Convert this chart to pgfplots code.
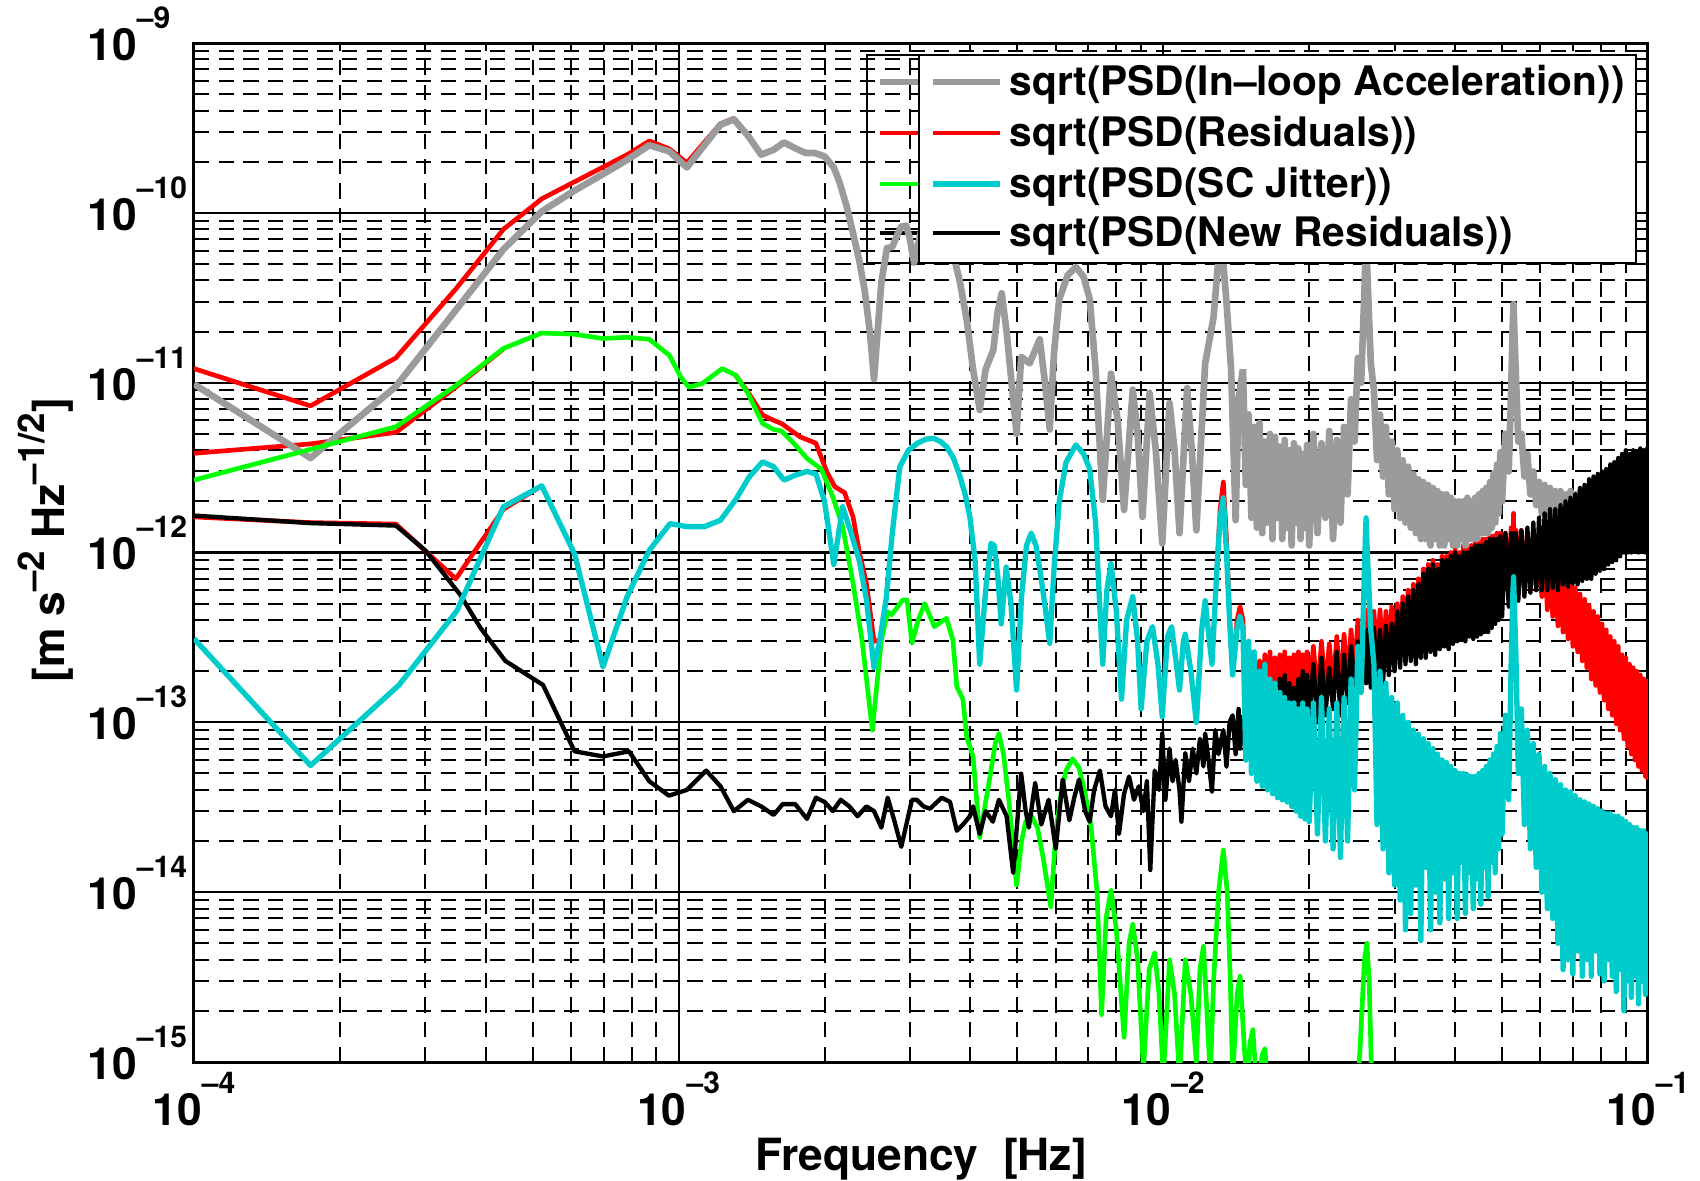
\documentclass[border=0pt]{standalone}
\usepackage{pgfplots}
\pgfplotsset{compat=1.18}
\usepackage{pgfplotstable}
\usepackage{fontspec}
\setmainfont{TeX Gyre Heros}
\definecolor{mgray}{RGB}{155,155,155}
\definecolor{mred}{RGB}{255,0,0}
\definecolor{mgreen}{RGB}{0,255,0}
\definecolor{mcyan}{RGB}{0,204,204}
\newcommand{\tl}[1]{\fontsize{13.3}{14}\selectfont\bfseries 10\raisebox{9.6pt}{\fontsize{9}{9}\selectfont\bfseries –#1}}
\newcommand{\sps}[1]{\raisebox{6pt}{\fontsize{11}{11}\selectfont\bfseries –#1}}
\newcommand{\legfont}{\fontsize{12.2}{14}\selectfont\bfseries}

\pgfplotstableread{
f g r c k
0.0146 1.2e-11 4.0e-13 3.5e-13 1.1e-13
0.0148 2.5e-12 1.2e-13 6.0e-14 6.0e-14
0.0150 6.5e-12 2.2e-13 3.0e-13 1.3e-13
0.0152 1.6e-12 1.0e-13 5.0e-14 6.5e-14
0.0154 5.5e-12 2.4e-13 2.6e-13 1.2e-13
0.0156 1.4e-12 1.1e-13 4.5e-14 7.0e-14
0.0158 5.8e-12 2.3e-13 2.0e-13 1.4e-13
0.0160 1.3e-12 1.2e-13 4.2e-14 7.5e-14
0.0162 4.5e-12 2.5e-13 2.2e-13 1.5e-13
0.0164 1.5e-12 1.1e-13 4.0e-14 8.0e-14
0.0166 5.0e-12 2.6e-13 1.8e-13 1.7e-13
0.0168 1.2e-12 1.2e-13 3.8e-14 7.0e-14
0.0170 4.8e-12 2.4e-13 1.7e-13 1.6e-13
0.0172 1.6e-12 1.3e-13 3.6e-14 8.5e-14
0.0174 4.2e-12 2.5e-13 1.5e-13 1.8e-13
0.0176 1.2e-12 1.2e-13 3.5e-14 7.5e-14
0.0178 4.6e-12 2.6e-13 1.4e-13 1.9e-13
0.0180 1.4e-12 1.3e-13 3.4e-14 9.0e-14
0.0182 4.0e-12 2.4e-13 1.3e-13 1.7e-13
0.0184 1.1e-12 1.2e-13 3.2e-14 8.0e-14
0.0186 4.4e-12 2.5e-13 1.3e-13 1.6e-13
0.0188 1.5e-12 1.3e-13 3.0e-14 8.5e-14
0.0190 4.1e-12 2.6e-13 1.2e-13 1.8e-13
0.0192 1.2e-12 1.2e-13 2.8e-14 9.0e-14
0.0194 3.8e-12 2.5e-13 1.3e-13 2.0e-13
0.0196 1.4e-12 1.4e-13 2.7e-14 9.5e-14
0.0198 4.3e-12 2.6e-13 1.2e-13 1.9e-13
0.0200 1.1e-12 1.3e-13 2.6e-14 1.0e-13
0.0204 5.0e-12 2.8e-13 1.3e-13 2.2e-13
0.0208 1.3e-12 1.4e-13 2.2e-14 1.0e-13
0.0212 4.4e-12 3.0e-13 1.4e-13 2.4e-13
0.0216 1.6e-12 1.5e-13 2.0e-14 1.1e-13
0.0220 5.2e-12 2.9e-13 1.2e-13 2.1e-13
0.0224 1.2e-12 1.6e-13 1.8e-14 1.2e-13
0.0228 4.6e-12 3.2e-13 1.3e-13 2.6e-13
0.0232 1.5e-12 1.5e-13 1.6e-14 1.1e-13
0.0236 5.5e-12 3.3e-13 1.4e-13 2.5e-13
0.0240 2.2e-12 1.7e-13 2.0e-14 1.3e-13
0.0244 8.0e-12 3.5e-13 1.8e-13 2.8e-13
0.0248 4.5e-12 1.8e-13 4.0e-14 1.4e-13
0.0252 1.4e-11 4.0e-13 2.8e-13 3.0e-13
0.0256 1.0e-11 2.0e-13 1.5e-13 1.6e-13
0.0260 3.5e-11 4.4e-13 8.0e-13 3.4e-13
0.0262 7.0e-11 2.2e-13 1.6e-12 1.7e-13
0.0264 4.0e-11 4.6e-13 9.0e-13 3.5e-13
0.0268 1.3e-11 2.1e-13 3.5e-13 1.6e-13
0.0272 9.0e-12 4.5e-13 2.2e-13 3.6e-13
0.0276 3.5e-12 2.2e-13 2.5e-14 1.8e-13
0.0280 6.5e-12 4.6e-13 2.0e-13 3.5e-13
0.0284 2.8e-12 2.1e-13 1.8e-14 1.7e-13
0.0288 5.5e-12 4.5e-13 1.7e-13 3.7e-13
0.0292 2.2e-12 2.3e-13 1.3e-14 1.9e-13
0.0296 4.5e-12 4.8e-13 1.4e-13 3.8e-13
0.0300 1.8e-12 2.4e-13 1.1e-14 2.0e-13
0.0304 4.0e-12 5.0e-13 1.3e-13 4.5e-13
0.0308 1.6e-12 2.5e-13 9.0e-15 2.1e-13
0.0312 3.5e-12 5.5e-13 1.1e-13 5.0e-13
0.0316 1.5e-12 2.6e-13 6.0e-15 2.2e-13
0.0320 3.2e-12 6.0e-13 1.0e-13 5.5e-13
0.0324 1.4e-12 2.8e-13 7.5e-15 2.3e-13
0.0328 2.9e-12 6.5e-13 9.0e-14 6.0e-13
0.0332 1.3e-12 2.7e-13 1.1e-14 2.2e-13
0.0336 2.7e-12 7.0e-13 8.5e-14 6.5e-13
0.0340 1.2e-12 2.9e-13 5.2e-15 2.4e-13
0.0344 2.6e-12 8.0e-13 8.0e-14 7.5e-13
0.0348 1.2e-12 3.0e-13 1.4e-14 2.4e-13
0.0352 2.5e-12 8.5e-13 7.5e-14 8.0e-13
0.0356 1.1e-12 3.1e-13 6.0e-15 2.6e-13
0.0360 2.4e-12 9.0e-13 7.0e-14 8.5e-13
0.0364 1.2e-12 3.0e-13 1.0e-14 2.5e-13
0.0368 2.3e-12 8.5e-13 6.5e-14 8.0e-13
0.0372 1.1e-12 3.2e-13 6.6e-15 2.7e-13
0.0376 2.2e-12 9.5e-13 6.0e-14 9.0e-13
0.0380 1.1e-12 3.3e-13 1.2e-14 2.8e-13
0.0384 2.2e-12 9.5e-13 5.8e-14 9.0e-13
0.0388 1.2e-12 3.2e-13 7.0e-15 2.7e-13
0.0392 2.1e-12 1.0e-12 5.5e-14 9.5e-13
0.0396 1.1e-12 3.4e-13 1.3e-14 2.9e-13
0.0400 2.0e-12 1.05e-12 5.2e-14 1.0e-12
0.0404 1.1e-12 3.5e-13 7.0e-15 3.0e-13
0.0408 2.0e-12 1.0e-12 5.0e-14 9.5e-13
0.0412 1.2e-12 3.6e-13 1.5e-14 3.1e-13
0.0416 2.0e-12 1.1e-12 5.0e-14 1.0e-12
0.0420 1.1e-12 3.5e-13 7.5e-15 3.0e-13
0.0424 2.1e-12 1.05e-12 4.9e-14 1.0e-12
0.0428 1.2e-12 3.7e-13 1.3e-14 3.2e-13
0.0432 2.0e-12 1.1e-12 4.8e-14 1.05e-12
0.0436 1.2e-12 3.6e-13 8.0e-15 3.1e-13
0.0440 2.1e-12 1.15e-12 4.8e-14 1.1e-12
0.0444 1.2e-12 3.8e-13 1.2e-14 3.2e-13
0.0448 2.2e-12 1.15e-12 5.0e-14 1.1e-12
0.0452 1.3e-12 3.9e-13 8.5e-15 3.3e-13
0.0456 2.3e-12 1.2e-12 5.2e-14 1.1e-12
0.0460 1.3e-12 4.0e-13 1.4e-14 3.4e-13
0.0464 2.4e-12 1.2e-12 5.5e-14 1.15e-12
0.0468 1.3e-12 4.1e-13 9.4e-15 3.4e-13
0.0472 2.6e-12 1.25e-12 6.0e-14 1.2e-12
0.0476 1.4e-12 4.3e-13 1.5e-14 3.6e-13
0.0480 2.9e-12 1.25e-12 6.5e-14 1.2e-12
0.0484 1.5e-12 4.5e-13 1.3e-14 3.8e-13
0.0488 3.3e-12 1.3e-12 7.2e-14 1.2e-12
0.0492 1.7e-12 4.7e-13 1.8e-14 4.0e-13
0.0496 3.9e-12 1.3e-12 8.6e-14 1.25e-12
0.0500 2.0e-12 5.0e-13 2.2e-14 4.2e-13
0.0508 5.0e-12 1.3e-12 1.1e-13 1.3e-12
0.0516 3.0e-12 5.5e-13 3.5e-14 4.8e-13
0.0522 9.0e-12 1.4e-12 2.2e-13 1.3e-12
0.0526 2.2e-11 6.0e-13 5.5e-13 5.0e-13
0.0528 2.9e-11 1.7e-12 7.2e-13 1.3e-12
0.0530 2.0e-11 5.5e-13 5.0e-13 5.0e-13
0.0534 1.1e-11 1.35e-12 2.5e-13 1.3e-12
0.0540 4.5e-12 5.6e-13 5.0e-14 5.2e-13
0.0548 5.0e-12 1.35e-12 1.2e-13 1.35e-12
0.0556 2.8e-12 5.8e-13 2.5e-14 5.5e-13
0.0564 3.8e-12 1.3e-12 9.0e-14 1.4e-12
0.0572 2.2e-12 6.0e-13 1.8e-14 5.8e-13
0.0580 3.0e-12 1.3e-12 7.5e-14 1.5e-12
0.0588 1.9e-12 6.2e-13 1.4e-14 6.0e-13
0.0596 2.6e-12 1.2e-12 6.5e-14 1.6e-12
0.0604 1.7e-12 5.5e-13 1.0e-14 6.0e-13
0.0612 2.5e-12 1.05e-12 5.5e-14 1.7e-12
0.0620 1.6e-12 4.6e-13 8.0e-15 6.0e-13
0.0628 2.4e-12 9.5e-13 5.0e-14 1.8e-12
0.0636 1.5e-12 4.2e-13 7.0e-15 6.2e-13
0.0644 2.3e-12 8.5e-13 4.6e-14 1.8e-12
0.0652 1.6e-12 3.7e-13 5.0e-15 6.0e-13
0.0660 2.3e-12 8.0e-13 4.3e-14 1.9e-12
0.0668 1.5e-12 3.4e-13 3.5e-15 6.5e-13
0.0676 2.2e-12 7.3e-13 4.0e-14 2.0e-12
0.0684 1.6e-12 3.1e-13 4.0e-15 6.3e-13
0.0692 2.3e-12 6.8e-13 3.9e-14 2.1e-12
0.0700 1.5e-12 2.8e-13 3.3e-15 6.6e-13
0.0708 2.2e-12 6.2e-13 3.7e-14 2.2e-12
0.0716 1.6e-12 2.6e-13 4.5e-15 6.5e-13
0.0724 2.3e-12 5.7e-13 3.5e-14 2.4e-12
0.0732 1.5e-12 2.3e-13 3.2e-15 6.8e-13
0.0740 2.2e-12 5.3e-13 3.4e-14 2.5e-12
0.0748 1.6e-12 2.1e-13 4.0e-15 7.0e-13
0.0756 2.3e-12 4.9e-13 3.3e-14 2.7e-12
0.0764 1.5e-12 1.8e-13 3.2e-15 7.0e-13
0.0772 2.2e-12 4.5e-13 3.2e-14 2.8e-12
0.0780 1.6e-12 1.65e-13 4.5e-15 7.5e-13
0.0788 2.3e-12 4.2e-13 3.1e-14 2.9e-12
0.0796 1.5e-12 1.5e-13 3.3e-15 7.8e-13
0.0804 2.2e-12 3.8e-13 3.0e-14 3.0e-12
0.0812 1.6e-12 1.35e-13 3.0e-15 8.0e-13
0.0820 2.3e-12 3.5e-13 2.9e-14 3.1e-12
0.0828 1.5e-12 1.2e-13 4.0e-15 8.5e-13
0.0836 2.2e-12 3.2e-13 2.9e-14 3.3e-12
0.0844 1.6e-12 1.1e-13 3.2e-15 8.8e-13
0.0852 2.3e-12 3.0e-13 2.8e-14 3.4e-12
0.0860 1.5e-12 9.8e-14 2.6e-15 9.0e-13
0.0868 2.2e-12 2.8e-13 2.8e-14 3.6e-12
0.0876 1.6e-12 9.0e-14 3.5e-15 9.5e-13
0.0884 2.3e-12 2.5e-13 2.7e-14 3.8e-12
0.0892 1.5e-12 8.0e-14 2.0e-15 1.0e-12
0.0900 2.2e-12 2.4e-13 2.6e-14 4.0e-12
0.0908 1.6e-12 7.2e-14 3.0e-15 1.0e-12
0.0916 2.3e-12 2.2e-13 2.5e-14 3.8e-12
0.0924 1.5e-12 6.5e-14 2.4e-15 1.0e-12
0.0932 2.2e-12 2.1e-13 2.4e-14 4.0e-12
0.0940 1.6e-12 6.0e-14 3.2e-15 1.05e-12
0.0948 2.3e-12 2.0e-13 2.4e-14 3.9e-12
0.0956 1.5e-12 5.5e-14 2.2e-15 1.0e-12
0.0964 2.2e-12 1.9e-13 2.3e-14 4.1e-12
0.0972 1.6e-12 5.2e-14 3.0e-15 1.05e-12
0.0980 2.3e-12 1.8e-13 2.3e-14 4.0e-12
0.0988 1.5e-12 4.8e-14 2.5e-15 1.0e-12
0.0996 2.2e-12 1.75e-13 2.2e-14 4.1e-12
0.1000 1.6e-12 4.6e-14 3.6e-15 1.0e-12
}\hf

\begin{document}
\begin{tikzpicture}
\begin{axis}[
  xmode=log, ymode=log,
  scale only axis, width=436.2pt, height=305.7pt,
  xmin=1e-4, xmax=1e-1, ymin=1e-15, ymax=1e-9,
  xtick={1e-4,1e-3,1e-2,1e-1},
  xticklabels={\tl{4},\tl{3},\tl{2},\tl{1}},
  ytick={1e-15,1e-14,1e-13,1e-12,1e-11,1e-10,1e-9},
  yticklabels={\tl{15},\tl{14},\tl{13},\tl{12},\tl{11},\tl{10},\tl{9}},
  minor xtick={2e-4,3e-4,4e-4,5e-4,6e-4,7e-4,8e-4,9e-4,2e-3,3e-3,4e-3,5e-3,6e-3,7e-3,8e-3,9e-3,2e-2,3e-2,4e-2,5e-2,6e-2,7e-2,8e-2,9e-2},
  minor ytick={2e-15,3e-15,4e-15,5e-15,6e-15,7e-15,8e-15,9e-15,2e-14,3e-14,4e-14,5e-14,6e-14,7e-14,8e-14,9e-14,2e-13,3e-13,4e-13,5e-13,6e-13,7e-13,8e-13,9e-13,2e-12,3e-12,4e-12,5e-12,6e-12,7e-12,8e-12,9e-12,2e-11,3e-11,4e-11,5e-11,6e-11,7e-11,8e-11,9e-11,2e-10,3e-10,4e-10,5e-10,6e-10,7e-10,8e-10,9e-10},
  grid=both,
  major grid style={black, line width=0.65pt},
  minor grid style={black, line width=0.6pt, dash pattern=on 4.6pt off 2.8pt},
  tick align=inside,
  major tick length=4pt, minor tick length=2.5pt,
  tick style={black, line width=0.6pt},
  axis line style={line width=0.9pt},
  xticklabel style={anchor=base, yshift=-18.9pt, inner sep=0pt},
  yticklabel style={anchor=base west, xshift=-32.1pt, yshift=-5.2pt, inner sep=0pt},
  xlabel={Frequency\ \ [Hz]},
  xlabel style={at={(rel axis cs:0.5,0)}, anchor=base, yshift=-32.4pt, inner sep=0pt, font=\fontsize{13.3}{14}\selectfont\bfseries},
  ylabel={[m s\sps{2} Hz\sps{1/2}]},
  ylabel style={at={(rel axis cs:-0.0825,0.512)}, anchor=south, inner sep=0pt, font=\fontsize{13.3}{14}\selectfont\bfseries},
  every axis plot/.append style={line join=round},
  no markers,
]
\coordinate (sw) at (rel axis cs:0,0);
\coordinate (ne) at (rel axis cs:1,1);
% back legend (partly hidden)
\draw[line width=0.75pt] (rel axis cs:0.4629,0.7841) rectangle (rel axis cs:0.97,0.9882);
\draw[mgray, line width=2pt] (rel axis cs:0.4718,0.9617) -- (rel axis cs:0.52,0.9617);
\draw[mred, line width=1.4pt] (rel axis cs:0.4718,0.9117) -- (rel axis cs:0.52,0.9117);
\draw[mgreen, line width=1.4pt] (rel axis cs:0.4718,0.8616) -- (rel axis cs:0.52,0.8616);
\draw[black, line width=1.3pt] (rel axis cs:0.4718,0.8135) -- (rel axis cs:0.52,0.8135);

% red curves (residuals)
\addplot[mred, line width=1.4pt] coordinates {(1.0e-4,1.21e-11) (1.74e-4,7.3e-12) (2.61e-4,1.4e-11) (3.48e-4,3.6e-11) (4.35e-4,8.0e-11) (5.22e-4,1.21e-10) (6.09e-4,1.52e-10) (6.96e-4,1.85e-10) (7.83e-4,2.2e-10) (8.70e-4,2.65e-10) (9.57e-4,2.38e-10) (1.04e-3,1.97e-10) (1.13e-3,2.6e-10) (1.22e-3,3.35e-10) (1.30e-3,3.6e-10) (1.39e-3,2.87e-10) (1.48e-3,2.2e-10)};
\addplot[mred, line width=1.4pt] coordinates {(1.0e-4,3.84e-12) (1.74e-4,4.36e-12) (2.61e-4,5.1e-12) (3.45e-4,9.3e-12) (4.35e-4,1.58e-11)};
\addplot[mred, line width=1.4pt] coordinates {(1.31e-3,1.11e-11) (1.39e-3,8.8e-12) (1.49e-3,6.45e-12) (1.57e-3,6.0e-12) (1.63e-3,5.75e-12) (1.78e-3,4.8e-12) (1.92e-3,4.4e-12) (2.02e-3,3.0e-12) (2.10e-3,2.44e-12) (2.20e-3,2.25e-12) (2.29e-3,1.62e-12) (2.36e-3,1.0e-12) (2.44e-3,6.6e-13) (2.53e-3,3.0e-13) (2.60e-3,3.05e-13)};
\addplot[mred, line width=1.4pt] coordinates {(1.0e-4,1.62e-12) (1.74e-4,1.5e-12) (2.61e-4,1.47e-12) (3.47e-4,7.0e-13) (4.35e-4,1.8e-12) (5.22e-4,2.47e-12)};
\addplot[mred, line width=1.4pt] coordinates {(1.29e-2,8.0e-13) (1.31e-2,1.8e-12) (1.33e-2,2.6e-12) (1.35e-2,1.2e-12) (1.37e-2,4.2e-13) (1.39e-2,2.0e-13) (1.42e-2,4.0e-13) (1.44e-2,4.8e-13) (1.46e-2,4.0e-13)};
\addplot[mred, line width=1.4pt] table[x=f, y=r] {\hf};

% gray (in-loop acceleration)
\addplot[mgray, line width=2pt] coordinates {(1.0e-4,9.8e-12) (1.74e-4,3.6e-12) (2.61e-4,9.5e-12) (3.48e-4,2.7e-11) (4.35e-4,6.1e-11) (5.22e-4,1.02e-10) (6.09e-4,1.35e-10) (6.96e-4,1.68e-10) (7.83e-4,2.05e-10) (8.70e-4,2.5e-10) (9.57e-4,2.3e-10) (1.04e-3,1.85e-10) (1.13e-3,2.5e-10) (1.22e-3,3.3e-10) (1.30e-3,3.55e-10) (1.39e-3,2.85e-10) (1.48e-3,2.2e-10) (1.57e-3,2.35e-10) (1.65e-3,2.6e-10) (1.74e-3,2.4e-10) (1.83e-3,2.25e-10) (1.91e-3,2.25e-10) (2.0e-3,2.15e-10) (2.09e-3,1.85e-10) (2.15e-3,1.5e-10) (2.22e-3,1.1e-10) (2.29e-3,7.6e-11) (2.36e-3,5.2e-11) (2.42e-3,3.5e-11) (2.48e-3,2.0e-11) (2.53e-3,1.05e-11) (2.58e-3,2.2e-11) (2.62e-3,3.9e-11) (2.69e-3,6.2e-11) (2.76e-3,6.3e-11) (2.83e-3,7.5e-11) (2.88e-3,8.3e-11) (2.95e-3,8.4e-11) (3.0e-3,7.0e-11) (3.06e-3,5.1e-11) (3.2e-3,9.0e-11) (3.4e-3,1.1e-10) (3.6e-3,8.0e-11) (3.72e-3,5.1e-11) (3.80e-3,4.0e-11) (3.93e-3,2.35e-11) (4.05e-3,1.2e-11) (4.18e-3,6.9e-12) (4.30e-3,1.2e-11) (4.46e-3,1.56e-11) (4.55e-3,2.6e-11) (4.64e-3,3.36e-11) (4.75e-3,2.0e-11) (4.88e-3,9.0e-12) (4.98e-3,5.0e-12) (5.09e-3,1.42e-11) (5.30e-3,1.3e-11) (5.56e-3,1.8e-11) (5.70e-3,1.0e-11) (5.83e-3,5.3e-12) (5.95e-3,1.5e-11) (6.10e-3,3.1e-11) (6.35e-3,4.3e-11) (6.60e-3,4.8e-11) (6.85e-3,4.2e-11) (7.05e-3,3.1e-11) (7.25e-3,1.2e-11) (7.50e-3,2.04e-12) (7.80e-3,1.13e-11) (8.05e-3,6.0e-12) (8.30e-3,1.78e-12) (8.65e-3,9.1e-12) (8.85e-3,5.0e-12) (9.06e-3,1.62e-12) (9.37e-3,8.7e-12) (9.65e-3,4.0e-12) (9.95e-3,1.13e-12) (1.03e-2,7.6e-12) (1.055e-2,4.0e-12) (1.08e-2,1.3e-12) (1.12e-2,9.3e-12) (1.145e-2,4.0e-12) (1.17e-2,1.35e-12) (1.22e-2,1.3e-11) (1.27e-2,2.44e-11) (1.30e-2,5.5e-11) (1.32e-2,6.5e-11) (1.35e-2,3.0e-11) (1.38e-2,1.2e-11) (1.41e-2,1.55e-12) (1.43e-2,8.0e-12) (1.46e-2,1.2e-11)};
\addplot[mgray, line width=2pt] table[x=f, y=g] {\hf};

% green
\addplot[mgreen, line width=1.4pt] coordinates {(1.0e-4,2.67e-12) (1.74e-4,4.05e-12) (2.61e-4,5.5e-12) (3.45e-4,9.5e-12) (4.35e-4,1.59e-11) (5.22e-4,1.96e-11) (6.09e-4,1.93e-11) (6.96e-4,1.82e-11) (7.83e-4,1.85e-11) (8.70e-4,1.8e-11) (9.57e-4,1.45e-11) (1.01e-3,1.08e-11) (1.05e-3,9.4e-12) (1.12e-3,9.9e-12) (1.23e-3,1.21e-11) (1.31e-3,1.11e-11) (1.39e-3,8.65e-12) (1.49e-3,5.75e-12) (1.57e-3,5.3e-12) (1.63e-3,5.2e-12) (1.74e-3,4.3e-12) (1.84e-3,3.58e-12) (1.97e-3,3.1e-12) (2.08e-3,2.13e-12) (2.18e-3,1.42e-12) (2.29e-3,6.6e-13) (2.39e-3,3.05e-13) (2.51e-3,9.0e-14) (2.62e-3,3.05e-13) (2.70e-3,4.48e-13) (2.75e-3,4.3e-13) (2.90e-3,5.25e-13) (2.96e-3,5.25e-13) (3.03e-3,2.92e-13) (3.12e-3,4.0e-13) (3.22e-3,5.0e-13) (3.37e-3,3.66e-13) (3.57e-3,4.1e-13) (3.68e-3,3.05e-13) (3.75e-3,1.62e-13) (3.86e-3,1.37e-13) (3.93e-3,8.2e-14) (4.05e-3,6.3e-14) (4.18e-3,2.1e-14) (4.30e-3,3.4e-14) (4.40e-3,5.0e-14) (4.50e-3,7.5e-14) (4.58e-3,8.6e-14) (4.68e-3,6.5e-14) (4.80e-3,3.5e-14) (4.90e-3,1.8e-14) (4.98e-3,1.1e-14) (5.10e-3,2.0e-14) (5.20e-3,2.6e-14) (5.35e-3,2.8e-14) (5.50e-3,2.4e-14) (5.65e-3,1.6e-14) (5.86e-3,8.2e-15) (6.00e-3,2.2e-14) (6.15e-3,3.8e-14) (6.30e-3,5.2e-14) (6.50e-3,6.1e-14) (6.70e-3,5.4e-14) (6.90e-3,3.8e-14) (7.10e-3,2.4e-14) (7.30e-3,1.0e-14) (7.46e-3,1.9e-15) (7.62e-3,7.0e-15) (7.80e-3,1.03e-14) (8.00e-3,6.0e-15) (8.30e-3,1.4e-15) (8.50e-3,5.0e-15) (8.65e-3,6.5e-15) (8.85e-3,4.0e-15) (9.10e-3,9.0e-16) (9.35e-3,3.5e-15) (9.60e-3,4.4e-15) (9.80e-3,2.5e-15) (1.00e-2,8.0e-16) (1.03e-2,4.0e-15) (1.055e-2,2.5e-15) (1.08e-2,8.0e-16) (1.11e-2,4.0e-15) (1.14e-2,2.5e-15) (1.17e-2,1.0e-15) (1.19e-2,3.5e-15) (1.21e-2,4.8e-15) (1.23e-2,2.0e-15) (1.25e-2,8.0e-16) (1.27e-2,3.0e-15) (1.30e-2,1.0e-14) (1.33e-2,1.77e-14) (1.355e-2,1.0e-14) (1.375e-2,3.0e-15) (1.39e-2,8.0e-16) (1.42e-2,2.5e-15) (1.44e-2,3.2e-15) (1.47e-2,1.2e-15) (1.49e-2,7.0e-16) (1.51e-2,1.3e-15) (1.53e-2,1.55e-15) (1.55e-2,9.0e-16) (1.57e-2,7.0e-16) (1.60e-2,1.1e-15) (1.62e-2,1.2e-15) (1.65e-2,6.0e-16) (2.00e-2,3.0e-16) (2.50e-2,5.0e-16) (2.55e-2,1.3e-15) (2.60e-2,4.0e-15) (2.63e-2,5.0e-15) (2.66e-2,3.0e-15) (2.69e-2,8.0e-16) (2.80e-2,3.0e-16)};

% black (new residuals)
\addplot[black, line width=1.3pt] coordinates {(1.0e-4,1.65e-12) (1.74e-4,1.49e-12) (2.61e-4,1.44e-12) (3.0e-4,1.03e-12) (3.54e-4,5.66e-13) (3.9e-4,3.6e-13) (4.39e-4,2.3e-13) (5.25e-4,1.66e-13) (6.1e-4,6.75e-14) (6.98e-4,6.3e-14) (7.9e-4,6.75e-14) (8.7e-4,4.5e-14) (9.55e-4,3.7e-14) (1.04e-3,4.0e-14) (1.14e-3,5.2e-14) (1.22e-3,4.2e-14) (1.30e-3,3.0e-14) (1.39e-3,3.5e-14) (1.48e-3,3.2e-14) (1.57e-3,2.85e-14) (1.64e-3,3.3e-14) (1.74e-3,3.3e-14) (1.84e-3,2.7e-14) (1.92e-3,3.6e-14) (2.0e-3,3.4e-14) (2.08e-3,3.0e-14) (2.16e-3,3.5e-14) (2.25e-3,3.2e-14) (2.34e-3,2.8e-14) (2.44e-3,3.2e-14) (2.53e-3,3.0e-14) (2.62e-3,2.4e-14) (2.70e-3,3.6e-14) (2.79e-3,2.6e-14) (2.88e-3,1.85e-14) (3.03e-3,3.5e-14) (3.1e-3,3.5e-14) (3.2e-3,3.2e-14) (3.3e-3,3.1e-14) (3.49e-3,3.6e-14) (3.63e-3,3.4e-14) (3.75e-3,2.3e-14) (3.86e-3,2.5e-14) (3.99e-3,2.8e-14) (4.05e-3,3.2e-14) (4.18e-3,2.2e-14) (4.3e-3,3.0e-14) (4.45e-3,2.6e-14) (4.58e-3,3.5e-14) (4.75e-3,2.8e-14) (4.9e-3,1.3e-14) (5.09e-3,5.0e-14) (5.2e-3,3.0e-14) (5.28e-3,2.4e-14) (5.44e-3,4.4e-14) (5.6e-3,2.5e-14) (5.8e-3,3.5e-14) (6.0e-3,1.8e-14) (6.2e-3,4.6e-14) (6.4e-3,2.65e-14) (6.55e-3,3.6e-14) (6.7e-3,4.6e-14) (6.9e-3,3.0e-14) (7.05e-3,2.6e-14) (7.2e-3,4.0e-14) (7.4e-3,5.2e-14) (7.6e-3,3.2e-14) (7.8e-3,2.8e-14) (7.95e-3,4.0e-14) (8.1e-3,2.2e-14) (8.3e-3,3.8e-14) (8.5e-3,4.8e-14) (8.7e-3,3.5e-14) (8.9e-3,4.2e-14) (9.1e-3,3.0e-14) (9.25e-3,4.5e-14) (9.4e-3,1.35e-14) (9.6e-3,5.2e-14) (9.8e-3,4.0e-14) (9.95e-3,8.6e-14) (1.01e-2,3.5e-14) (1.03e-2,7.0e-14) (1.045e-2,4.5e-14) (1.06e-2,6.0e-14) (1.08e-2,4.0e-14) (1.09e-2,2.6e-14) (1.11e-2,6.6e-14) (1.13e-2,4.5e-14) (1.15e-2,7.0e-14) (1.17e-2,5.0e-14) (1.19e-2,8.0e-14) (1.21e-2,5.5e-14) (1.22e-2,8.6e-14) (1.24e-2,6.0e-14) (1.26e-2,3.9e-14) (1.28e-2,9.0e-14) (1.30e-2,6.5e-14) (1.33e-2,9.0e-14) (1.35e-2,5.5e-14) (1.37e-2,1.0e-13) (1.39e-2,1.1e-13) (1.41e-2,6.5e-14) (1.43e-2,1.2e-13) (1.44e-2,7.0e-14) (1.46e-2,1.1e-13)};
\addplot[black, line width=1.3pt] table[x=f, y=k] {\hf};

% cyan (SC jitter)
\addplot[mcyan, line width=1.6pt] coordinates {(1.0e-4,3.11e-13) (1.74e-4,5.57e-14) (2.65e-4,1.66e-13) (3.49e-4,4.55e-13) (4.35e-4,1.86e-12) (5.22e-4,2.47e-12) (6.10e-4,9.8e-13) (6.98e-4,2.12e-13) (7.83e-4,5.5e-13) (8.70e-4,1.03e-12) (9.60e-4,1.48e-12) (1.04e-3,1.42e-12) (1.13e-3,1.42e-12) (1.22e-3,1.55e-12) (1.31e-3,2.04e-12) (1.40e-3,2.8e-12) (1.49e-3,3.42e-12) (1.57e-3,3.2e-12) (1.65e-3,2.67e-12) (1.74e-3,2.85e-12) (1.84e-3,3.0e-12) (1.92e-3,2.9e-12) (2.00e-3,2.0e-12) (2.09e-3,8.5e-13) (2.18e-3,1.86e-12) (2.27e-3,1.3e-12) (2.36e-3,8.9e-13) (2.44e-3,5.3e-13) (2.53e-3,2.1e-13) (2.60e-3,3.05e-13) (2.68e-3,5.3e-13) (2.76e-3,1.3e-12) (2.86e-3,3.2e-12) (2.98e-3,4.0e-12) (3.11e-3,4.4e-12) (3.24e-3,4.65e-12) (3.36e-3,4.7e-12) (3.47e-3,4.5e-12) (3.57e-3,4.2e-12) (3.69e-3,3.6e-12) (3.80e-3,2.85e-12) (3.90e-3,2.2e-12) (3.99e-3,1.62e-12) (4.09e-3,9.0e-13) (4.18e-3,2.2e-13) (4.30e-3,6.0e-13) (4.41e-3,1.13e-12) (4.48e-3,1.1e-12) (4.56e-3,7.0e-13) (4.63e-3,3.8e-13) (4.74e-3,8.2e-13) (4.85e-3,5.0e-13) (4.98e-3,1.55e-13) (5.10e-3,5.5e-13) (5.22e-3,1.1e-12) (5.34e-3,1.3e-12) (5.46e-3,1.1e-12) (5.60e-3,7.0e-13) (5.72e-3,4.5e-13) (5.83e-3,2.92e-13) (5.95e-3,8.0e-13) (6.10e-3,2.0e-12) (6.30e-3,3.4e-12) (6.60e-3,4.3e-12) (6.85e-3,3.8e-12) (7.05e-3,3.1e-12) (7.25e-3,1.5e-12) (7.50e-3,2.2e-13) (7.65e-3,6.0e-13) (7.80e-3,8.6e-13) (8.00e-3,4.5e-13) (8.20e-3,1.37e-13) (8.40e-3,4.0e-13) (8.65e-3,5.5e-13) (8.85e-3,3.0e-13) (9.00e-3,1.2e-13) (9.25e-3,3.0e-13) (9.50e-3,3.66e-13) (9.75e-3,2.2e-13) (9.95e-3,1.08e-13) (1.02e-2,3.2e-13) (1.04e-2,3.66e-13) (1.06e-2,2.4e-13) (1.08e-2,1.55e-13) (1.10e-2,3.0e-13) (1.11e-2,3.3e-13) (1.14e-2,2.0e-13) (1.17e-2,1.0e-13) (1.20e-2,3.5e-13) (1.22e-2,5.2e-13) (1.245e-2,3.0e-13) (1.26e-2,2.2e-13) (1.29e-2,8.0e-13) (1.31e-2,1.6e-12) (1.33e-2,2.1e-12) (1.35e-2,1.0e-12) (1.37e-2,4.0e-13) (1.39e-2,1.9e-13) (1.42e-2,3.6e-13) (1.44e-2,4.2e-13) (1.46e-2,3.5e-13)};
\addplot[mcyan, line width=1.6pt] table[x=f, y=c] {\hf};

% front legend
\draw[fill=white, line width=0.75pt] (rel axis cs:0.4986,0.7841) rectangle (rel axis cs:0.9917,0.9882);
\draw[mgray, line width=2pt] (rel axis cs:0.5083,0.9617) -- (rel axis cs:0.5543,0.9617);
\draw[mred, line width=1.4pt] (rel axis cs:0.5083,0.9117) -- (rel axis cs:0.5543,0.9117);
\draw[mcyan, line width=1.6pt] (rel axis cs:0.5083,0.8616) -- (rel axis cs:0.5543,0.8616);
\draw[black, line width=1.3pt] (rel axis cs:0.5083,0.8135) -- (rel axis cs:0.5543,0.8135);
\node[anchor=base west, inner sep=0pt, font=\legfont] at ([yshift=-4pt]rel axis cs:0.5605,0.9617) {sqrt(PSD(In–loop Acceleration))};
\node[anchor=base west, inner sep=0pt, font=\legfont] at ([yshift=-4pt]rel axis cs:0.5605,0.9117) {sqrt(PSD(Residuals))};
\node[anchor=base west, inner sep=0pt, font=\legfont] at ([yshift=-4pt]rel axis cs:0.5605,0.8616) {sqrt(PSD(SC Jitter))};
\node[anchor=base west, inner sep=0pt, font=\legfont] at ([yshift=-4pt]rel axis cs:0.5605,0.8135) {sqrt(PSD(New Residuals))};
\end{axis}
\pgfresetboundingbox
\path[use as bounding box] ([shift={(-58.2pt,-35.7pt)}]sw) rectangle ([shift={(15.6pt,12.9pt)}]ne);
\end{tikzpicture}
\end{document}
